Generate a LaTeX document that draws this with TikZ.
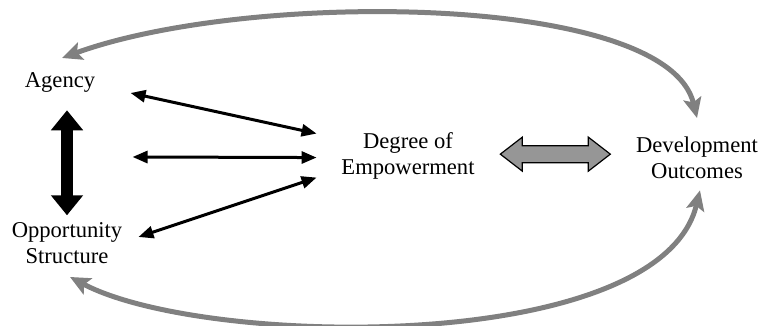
\documentclass[tikz,border=0pt]{standalone}
\usepackage{fontspec}
\setmainfont{Liberation Serif}
\usetikzlibrary{arrows.meta,calc}
\definecolor{curvegray}{RGB}{128,128,128}
\definecolor{blockgray}{RGB}{150,150,150}
\begin{document}
\begin{tikzpicture}[x=0.5pt,y=-0.5pt,
  lbl/.style={inner sep=0pt,align=center,font=\fontsize{11.3}{13}\selectfont},
  thinarrow/.style={line width=1.5pt,{Triangle[length=7.5pt,width=6pt]}-{Triangle[length=7.5pt,width=6pt]}},
  bigarrow/.style={line width=6pt,{Triangle[length=10pt,width=15.5pt]}-{Triangle[length=10pt,width=15.5pt]}},
  loop/.style={curvegray,line width=2.5pt,{Stealth[length=10pt,width=9pt,inset=2pt]}-{Stealth[length=10pt,width=9pt,inset=2pt]}},
  blockarrow/.style={draw=black,line width=0.6pt,fill=blockgray,line join=miter}]
\useasboundingbox (0,0) rectangle (761,326);
\node[lbl,anchor=base] (agency) at (60,88) {Agency};
\node[lbl,anchor=north] (opp) at (67,222.3) {Opportunity\\Structure};
\node[lbl,anchor=north] (degree) at (408,132.6) {Degree of\\Empowerment};
\node[lbl,anchor=north] (outcomes) at (697,136.6) {Development\\Outcomes};
% vertical black double arrow
\draw[bigarrow] ($(agency.south)+(7,17)$) -- ($(opp.north)+(0,-7)$);
% thin double arrows
\draw[thinarrow] ($(agency.east)+(35,10)$) -- ($(degree.west)+(-24.5,-22.8)$);
\draw[thinarrow] ($(agency.east)+(37,74)$) -- ($(degree.west)+(-24.5,1.2)$);
\draw[thinarrow] ($(opp.east)+(15.8,-6.3)$) -- ($(degree.west)+(-24.5,21.2)$);
% gray block double arrow
\coordinate (bc) at ($(degree.east)!0.5!(outcomes.west)+(0,-3)$);
\draw[blockarrow] ($(bc)+(-55,0)$) -- ++(22,-17) -- ++(0,8.5) -- ++(66,0) -- ++(0,-8.5)
  -- ++(22,17) -- ++(-22,17) -- ++(0,-8.5) -- ++(-66,0) -- ++(0,8.5) -- cycle;
% gray feedback loops
\draw[loop] ($(agency.north)+(2,-14.7)$) .. controls +(187,-68) and +(-30,-125) .. ($(outcomes.north)+(0,-18.6)$);
\draw[loop] ($(opp.south)+(3,12.7)$) .. controls +(134,71) and +(-40,165) .. ($(outcomes.south)+(3,11)$);
\end{tikzpicture}
\end{document}
